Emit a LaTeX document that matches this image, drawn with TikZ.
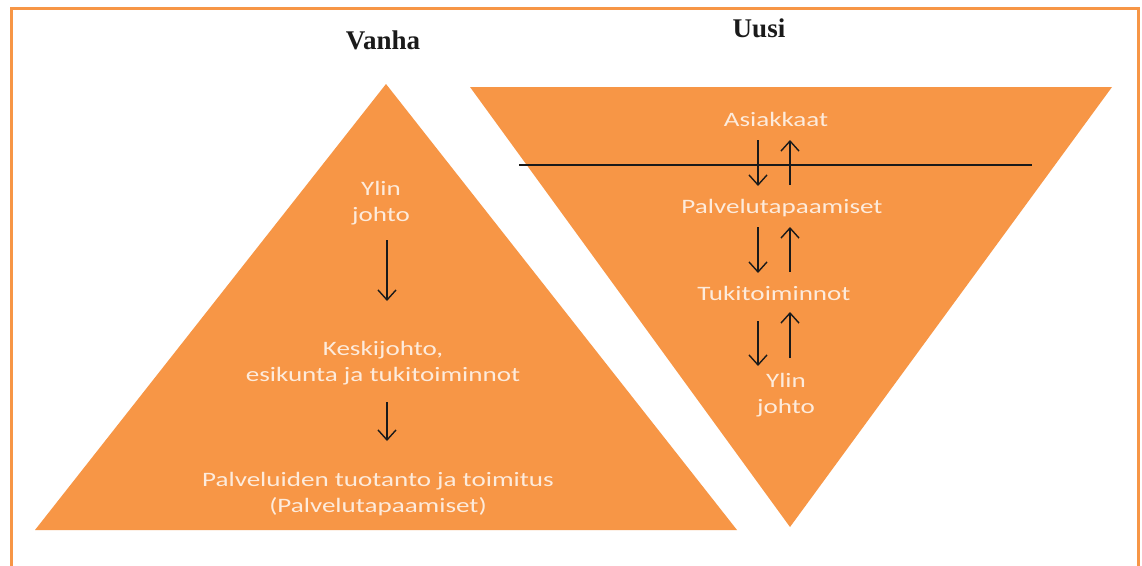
\documentclass[tikz,border=0pt]{standalone}
\usepackage{fontspec}
\setmainfont{Carlito}
\newfontfamily\lblfont[FakeStretch=1.32]{Carlito}
\newfontfamily\titlefont{Liberation Serif}
\usetikzlibrary{arrows.meta}
\definecolor{accent}{HTML}{F79646}
\definecolor{cream}{HTML}{FDEBDC}
\definecolor{ink}{HTML}{1A1A1A}
\tikzset{
  lbl/.style={text=cream, font=\lblfont\fontsize{20.5}{26}\selectfont, align=center, inner sep=0pt, anchor=base},
  ttl/.style={text=ink, font=\titlefont\bfseries\fontsize{27}{30}\selectfont, inner sep=0pt, anchor=base},
  flow/.style={draw=ink, line width=1.4pt, -{Straight Barb[length=10pt,width=18pt,line width=1.4pt]}},
  frame/.style={draw=accent, line width=3pt},
  wedge/.style={fill=accent, draw=none}
}
\begin{document}
\begin{tikzpicture}[x=1pt,y=-1pt]
\useasboundingbox (0,0) rectangle (1142,565);
\fill[white] (0,0) rectangle (1142,565);
% outer frame (open at the bottom)
\draw[frame] (11,566) -- (11,8) -- (1138,8) -- (1138,566);

% old model: upright pyramid
\fill[wedge] (386,84) -- (737,530) -- (35,530) -- cycle;
% new model: inverted pyramid
\fill[wedge] (470,87) -- (1112,87) -- (790,527) -- cycle;
\draw[ink, line width=1.2pt] (519,165) -- (1032,165);

% titles
\node[ttl] (vanha) at (383,49) {Vanha};
\node[ttl] (uusi) at (759,37) {Uusi};

% old model labels (base anchor sits on the last line)
\node[lbl] (ylinA) at (381,221) {Ylin\\johto};
\node[lbl] (keski) at (383,381) {Keskijohto,\\esikunta ja tukitoiminnot};
\node[lbl] (palv) at (378,512) {Palveluiden tuotanto ja toimitus\\(Palvelutapaamiset)};

\coordinate (a1s) at (387,240); \coordinate (a1e) at (387,301);
\coordinate (a2s) at (387,402); \coordinate (a2e) at (387,441);
\draw[flow] (a1s) -- (a1e);
\draw[flow] (a2s) -- (a2e);

% new model labels
\node[lbl] (asiak) at (776,126) {Asiakkaat};
\node[lbl] (ptap) at (782,213) {Palvelutapaamiset};
\node[lbl] (tuki) at (774,300) {Tukitoiminnot};
\node[lbl] (ylinB) at (786,413) {Ylin\\johto};

\coordinate (d1s) at (758,140); \coordinate (d1e) at (758,186);
\coordinate (u1s) at (790,185); \coordinate (u1e) at (790,140);
\coordinate (d2s) at (758,227); \coordinate (d2e) at (758,273);
\coordinate (u2s) at (790,272); \coordinate (u2e) at (790,227);
\coordinate (d3s) at (758,321); \coordinate (d3e) at (758,366);
\coordinate (u3s) at (790,358); \coordinate (u3e) at (790,312);
\foreach \p in {d1,u1,d2,u2,d3,u3}
  \draw[flow] (\p s) -- (\p e);
\end{tikzpicture}
\end{document}
